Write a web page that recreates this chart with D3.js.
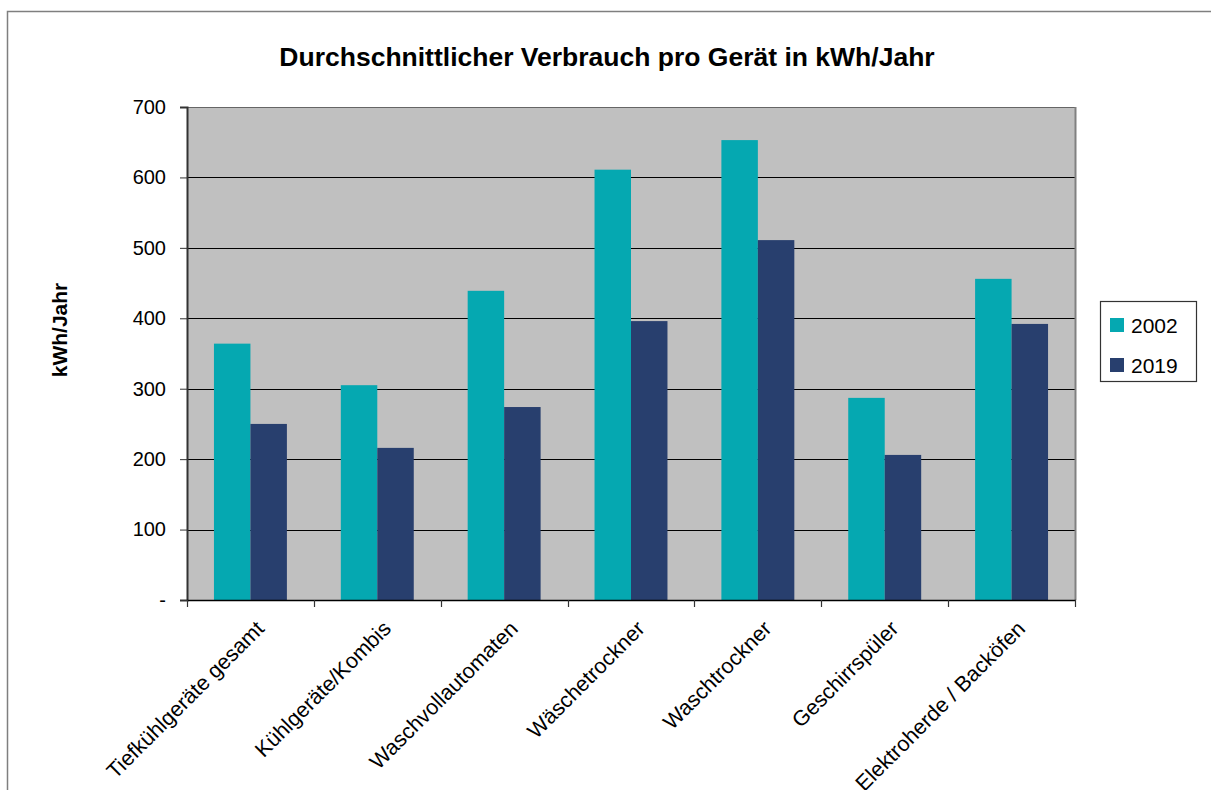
<!DOCTYPE html>
<html>
<head>
<meta charset="utf-8">
<script src="https://cdn.jsdelivr.net/npm/d3@7"></script>
<style>
  body { margin: 0; background: #fff; }
  svg { display: block; font-family: "Liberation Sans", Arial, sans-serif; }
</style>
</head>
<body>
<svg id="chart" width="1211" height="790"></svg>
<script>
var categories = ["Tiefkühlgeräte gesamt", "Kühlgeräte/Kombis", "Waschvollautomaten",
                  "Wäschetrockner", "Waschtrockner", "Geschirrspüler", "Elektroherde / Backöfen"];
var seriesNames = ["2002", "2019"];
var values2002 = [364, 305, 439, 611, 653, 287, 456];
var values2019 = [250, 216, 274, 396, 511, 206, 392];
var yTicks = [0, 100, 200, 300, 400, 500, 600, 700];
var colors = ["#05A8B1", "#283F6E"];

var svg = d3.select("svg#chart");
var plotLeft = 187, plotRight = 1075, plotTop = 107, plotBottom = 600;

// outer frame, runs off the right and bottom edge
svg.append("rect")
   .attr("x", 7.5).attr("y", 11.5)
   .attr("width", 1300).attr("height", 900)
   .attr("fill", "none").attr("stroke", "#7f7f7f").attr("stroke-width", 1.5);

var x = d3.scaleBand().domain(categories).range([plotLeft, plotRight])
          .paddingInner(0.425).paddingOuter(0.2125);
var xs = d3.scaleBand().domain(seriesNames).range([0, x.bandwidth()]);
var y = d3.scaleLinear().domain([0, 700]).range([plotBottom, plotTop]);

svg.append("rect")
   .attr("x", plotLeft).attr("y", plotTop)
   .attr("width", plotRight - plotLeft).attr("height", plotBottom - plotTop)
   .attr("fill", "#c0c0c0");

// gridlines
svg.append("g").selectAll("line")
   .data(yTicks.slice(1))
   .join("line")
   .attr("x1", plotLeft).attr("x2", plotRight)
   .attr("y1", function(d) { return Math.round(y(d)) + 0.5; })
   .attr("y2", function(d) { return Math.round(y(d)) + 0.5; })
   .attr("stroke", function(d) { return d == 700 ? "#666" : "#000"; })
   .attr("stroke-width", 1.2);

// right border of plot area
svg.append("line")
   .attr("x1", plotRight + 0.5).attr("x2", plotRight + 0.5)
   .attr("y1", plotTop).attr("y2", plotBottom)
   .attr("stroke", "#808080").attr("stroke-width", 2);

var series = [values2002, values2019];
var groups = svg.append("g").selectAll("g")
   .data(seriesNames)
   .join("g")
   .attr("fill", function(d, i) { return colors[i]; });
groups.selectAll("rect")
   .data(function(s, i) {
     return categories.map(function(c, j) { return { cat: c, s: s, v: series[i][j] }; });
   })
   .join("rect")
   .attr("x", function(d) { return x(d.cat) + xs(d.s); })
   .attr("width", xs.bandwidth())
   .attr("y", function(d) { return y(d.v); })
   .attr("height", function(d) { return y(0) - y(d.v); });

// y axis
var yAxis = svg.append("g")
   .attr("transform", "translate(" + plotLeft + ",0)")
   .call(d3.axisLeft(y).tickValues(yTicks).tickSize(7).tickPadding(14)
          .tickFormat(function(d) { return d == 0 ? "-" : d; }));
yAxis.select(".domain").attr("stroke", "#333").attr("stroke-width", 2);
yAxis.selectAll(".tick line").attr("stroke", "#333");
yAxis.selectAll(".tick text").attr("font-size", 20).attr("fill", "#000")
     .attr("font-family", "Liberation Sans, Arial, sans-serif");

// x axis with ticks at category boundaries
var xAxisG = svg.append("g");
xAxisG.append("line")
   .attr("x1", plotLeft).attr("x2", plotRight + 1)
   .attr("y1", plotBottom + 0.5).attr("y2", plotBottom + 0.5)
   .attr("stroke", "#000").attr("stroke-width", 1.5);
var bounds = categories.map(function(c) { return x(c) - x.step() * x.paddingInner() / 2; });
bounds.push(plotRight);
xAxisG.selectAll("line.tk")
   .data(bounds)
   .join("line")
   .attr("class", "tk")
   .attr("x1", function(d) { return Math.round(d) + 0.5; })
   .attr("x2", function(d) { return Math.round(d) + 0.5; })
   .attr("y1", plotBottom).attr("y2", plotBottom + 7)
   .attr("stroke", "#333").attr("stroke-width", 1.2);

xAxisG.selectAll("text")
   .data(categories)
   .join("text")
   .attr("transform", function(d) {
     return "translate(" + (x(d) + x.bandwidth() / 2 + 15) + "," + (plotBottom + 30) + ") rotate(-45)";
   })
   .attr("text-anchor", "end")
   .attr("font-size", 21.5)
   .text(function(d) { return d; });

// title
svg.append("text")
   .attr("x", 607).attr("y", 66)
   .attr("text-anchor", "middle")
   .attr("font-size", 26.5).attr("font-weight", "bold")
   .text("Durchschnittlicher Verbrauch pro Gerät in kWh/Jahr");

// y axis title
svg.append("text")
   .attr("transform", "translate(67,330) rotate(-90)")
   .attr("text-anchor", "middle")
   .attr("font-size", 21).attr("font-weight", "bold")
   .text("kWh/Jahr");

// legend
var legend = svg.append("g").attr("transform", "translate(1100,301)");
legend.append("rect")
   .attr("x", 0.5).attr("y", 0.5).attr("width", 96).attr("height", 80)
   .attr("fill", "#fff").attr("stroke", "#333").attr("stroke-width", 1.2);
var items = legend.selectAll("g.item")
   .data(seriesNames)
   .join("g")
   .attr("class", "item")
   .attr("transform", function(d, i) { return "translate(10," + (17 + i * 40) + ")"; });
items.append("rect")
   .attr("width", 14).attr("height", 14)
   .attr("fill", function(d, i) { return colors[i]; });
items.append("text")
   .attr("x", 21).attr("y", 15)
   .attr("font-size", 21)
   .text(function(d) { return d; });
</script>
</body>
</html>
